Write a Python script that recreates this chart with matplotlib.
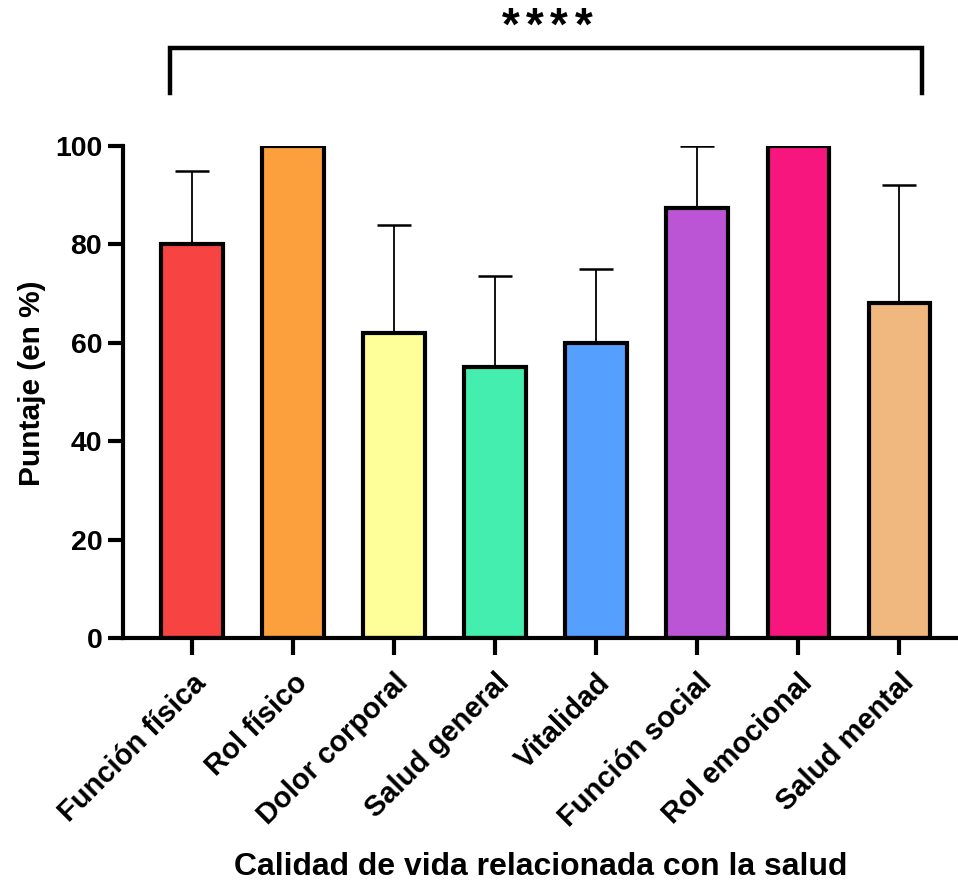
import numpy as np
import matplotlib as mpl
from matplotlib import pyplot as plt

mpl.rcParams['font.family'] = ['Liberation Sans', 'DejaVu Sans']
mpl.rcParams['font.weight'] = 'bold'

# SF-36 dimensions, mean score and upper error (SD)
dimensiones = ['Función física', 'Rol físico', 'Dolor corporal', 'Salud general',
               'Vitalidad', 'Función social', 'Rol emocional', 'Salud mental']
medias = [80, 100, 62, 55, 60, 87.5, 100, 68]
errores = [15, 0, 22, 18.5, 15, 12.5, 0, 24]
colores = ['#F84343', '#FCA03E', '#FFFF99', '#44EEAE',
           '#559FFF', '#BB55D6', '#F7157E', '#F0B77E']
yticks = [0, 20, 40, 60, 80, 100]

fig = plt.figure(figsize=(9.58, 8.84), dpi=100)
ax = fig.add_axes([0.1284, 0.2783, 0.8716, 0.5565])

x = np.arange(len(dimensiones))

# error bars first so the bars sit on top of the lower part
ax.errorbar(x, medias, yerr=[np.zeros(len(medias)), errores], fmt='none',
            ecolor='black', elinewidth=1.3, capsize=12, capthick=1.8, zorder=1)
ax.bar(x, medias, width=0.61, color=colores, edgecolor='black', linewidth=3, zorder=2)

ax.set_xlim(-0.683, 7.58)
ax.set_ylim(0, 100)
ax.set_yticks(yticks)
ax.set_xticks(x)
ax.set_xticklabels(dimensiones, rotation=45, ha='right', rotation_mode='anchor',
                   fontsize=21, fontweight='bold')
ax.tick_params(axis='y', labelsize=20.5, width=3, length=11, pad=4)
ax.tick_params(axis='x', width=3, length=12, pad=10)

for s in ['top', 'right']:
    ax.spines[s].set_visible(False)
for s in ['left', 'bottom']:
    ax.spines[s].set_linewidth(3)

ax.set_ylabel('Puntaje (en %)', fontsize=21.5, fontweight='bold')
ax.yaxis.set_label_coords(-0.092, 0.518)
ax.set_xlabel('Calidad de vida relacionada con la salud', fontsize=23,
              fontweight='bold', labelpad=14)

# significance bracket across all dimensions
ax.plot([-0.22, -0.22, 7.22, 7.22], [110.8, 120.0, 120.0, 110.8], color='black',
        linewidth=3.2, clip_on=False, solid_joinstyle='miter')
for k in range(4):
    ax.text(3.515 + (k - 1.5) * 0.238, 121.6, '*', ha='center', va='baseline',
            fontsize=33, fontweight='bold', clip_on=False)

fig.savefig('out.png', dpi=100)
